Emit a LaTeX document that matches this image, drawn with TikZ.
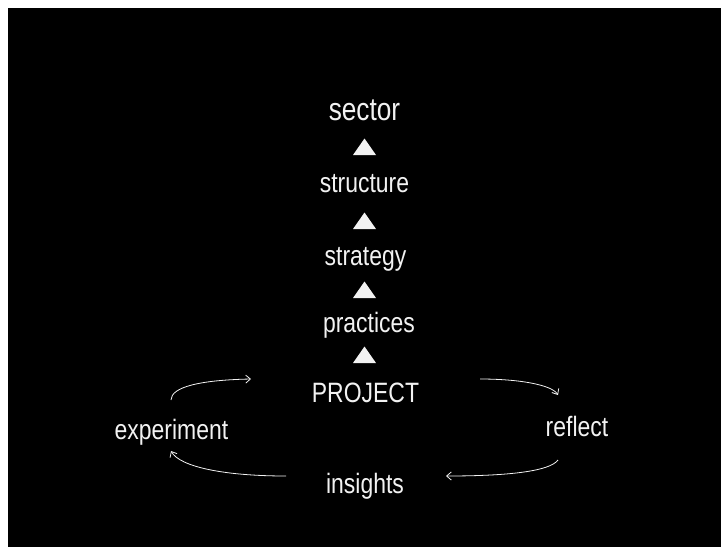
\documentclass[tikz,border=0pt]{standalone}
\usepackage{fontspec}
\usepackage{tikz}
\usetikzlibrary{arrows.meta}
\newfontfamily\narrowsans{Liberation Sans}[FakeStretch=0.82]
\definecolor{chalk}{RGB}{242,242,242}
\tikzset{
    word/.style={text=chalk,anchor=base,inner sep=0pt,font=\narrowsans\fontsize{21pt}{24pt}\selectfont},
    bigword/.style={word,font=\narrowsans\fontsize{24pt}{28pt}\selectfont},
    loop arrow/.style={chalk,line width=0.6pt,-{Straight Barb[length=3.5pt,width=6pt]}}
}

\begin{document}
\begin{tikzpicture}[x=0.75pt,y=-0.75pt]
                \useasboundingbox (0,0) rectangle (721,547);
                \fill[white] (0,0) rectangle (721,547);
                \fill[black] (8,8) rectangle (721,547);
                % the ladder
                \node[bigword] (sector) at (364.5,120) {sector};
                \node[word] (structure) at (364.5,192) {structure};
                \node[word] (strategy) at (365.5,265) {strategy};
                \node[word] (practices) at (369,332) {practices};
                \node[word] (project) at (365.5,402) {PROJECT};
                \foreach \y in {155,229,298,363} {
                    \fill[chalk] (353,\y) -- (376,\y) -- (364.5,\y-16.5) -- cycle;
                }
                % the loop
                \node[word] (experiment) at (171.5,439) {experiment};
                \node[word] (reflect) at (577,436) {reflect};
                \node[word] (insights) at (365,493) {insights};
                \coordinate (tl-start) at (171,400);
                \coordinate (tl-end) at (251,379);
                \coordinate (tr-start) at (480,379);
                \coordinate (tr-end) at (558,395);
                \coordinate (br-start) at (558,460);
                \coordinate (br-end) at (446,476);
                \coordinate (bl-start) at (286,476);
                \coordinate (bl-end) at (171,451);
                \draw[loop arrow] (tl-start) .. controls (171,387) and (200,380) .. (tl-end);
                \draw[loop arrow] (tr-start) .. controls (520,379) and (552,385) .. (tr-end);
                \draw[loop arrow] (br-start) .. controls (550,471) and (510,476) .. (br-end);
                \draw[loop arrow] (bl-start) .. controls (225,476) and (180,467) .. (bl-end);
            \end{tikzpicture}
\end{document}
